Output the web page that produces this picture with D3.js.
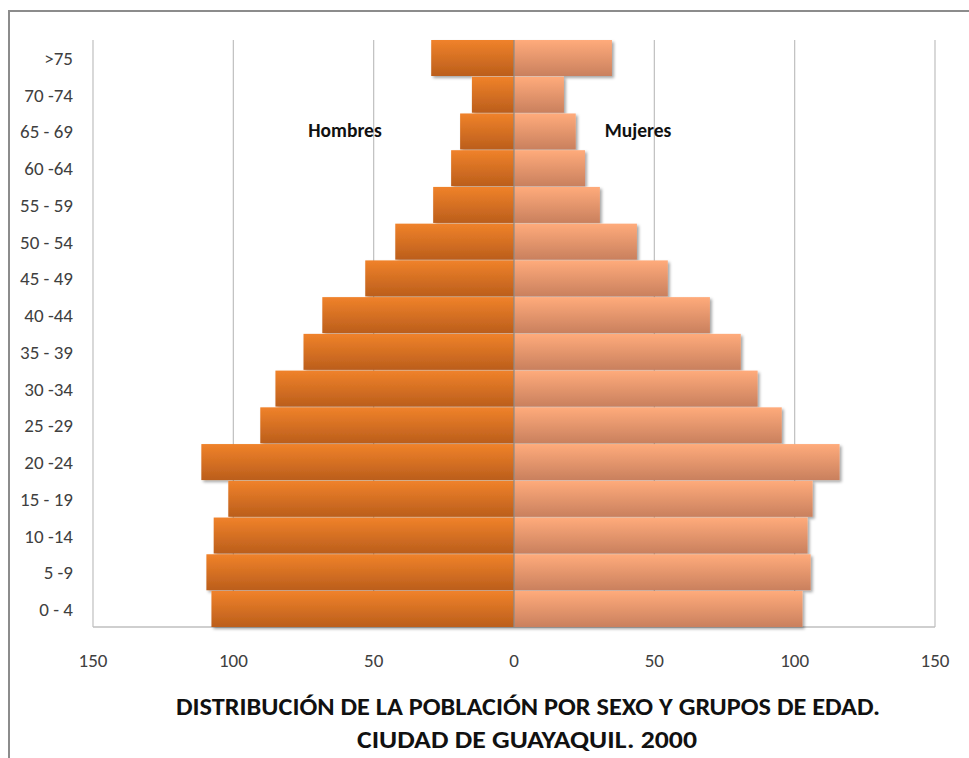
<!DOCTYPE html>
<html>
<head>
<meta charset="utf-8">
<script src="https://cdn.jsdelivr.net/npm/d3@7"></script>
<style>
  body { margin: 0; background: #fff; }
  svg { display: block; font-family: Carlito, Calibri, Lato, "Open Sans", sans-serif; }
</style>
</head>
<body>
<svg id="chart" width="969" height="758"></svg>
<script>
// Age groups, top to bottom
const groups = ["0 - 4", "5 -9", "10 -14", "15 - 19", "20 -24", "25 -29", "30 -34", "35 - 39",
  "40 -44", "45 - 49", "50 - 54", "55 - 59", "60 -64", "65 - 69", "70 -74", ">75"];
const hombres = [107.8, 109.6, 107, 101.8, 111.4, 90.4, 85, 75, 68.3, 53, 42.3, 28.8, 22.4, 19.2, 15, 29.5];
const mujeres = [102.8, 105.7, 104.6, 106.4, 116, 95.4, 86.8, 80.8, 69.8, 54.8, 43.8, 30.6, 25.3, 22, 17.8, 34.9];
const ticks = [-150, -100, -50, 0, 50, 100, 150];
const titleLines = ["DISTRIBUCIÓN DE LA POBLACIÓN POR SEXO Y GRUPOS DE EDAD.", "CIUDAD DE GUAYAQUIL. 2000"];

const svg = d3.select("#chart");
const plotL = 93, plotR = 935, plotT = 40, plotB = 627;

const x = d3.scaleLinear().domain([-150, 150]).range([plotL, plotR]);
const y = d3.scaleBand().domain(groups.slice().reverse()).range([plotT, plotB]).paddingInner(0.02);

const defs = svg.append("defs");
function grad(id, c1, c2) {
  const g = defs.append("linearGradient").attr("id", id)
    .attr("x1", 0).attr("y1", 0).attr("x2", 0).attr("y2", 1);
  g.append("stop").attr("offset", "0%").attr("stop-color", c1);
  g.append("stop").attr("offset", "100%").attr("stop-color", c2);
}
grad("gH", "#f0822a", "#bb5e1c");
grad("gM", "#ffab7b", "#c9805e");
defs.append("filter").attr("id", "shadow").attr("x", "-5%").attr("y", "-20%")
  .attr("width", "115%").attr("height", "160%")
  .append("feDropShadow").attr("dx", 2).attr("dy", 2)
  .attr("stdDeviation", 1.5).attr("flood-color", "#000").attr("flood-opacity", 0.35);

// Outer frame (only left and top visible)
svg.append("path").attr("d", "M9,758 V11 H969")
  .attr("fill", "none").attr("stroke", "#8c8c8c").attr("stroke-width", 2);

// Gridlines
svg.append("g").selectAll("line").data(ticks.filter(d => d !== 0)).enter().append("line")
  .attr("x1", d => x(d)).attr("x2", d => x(d))
  .attr("y1", plotT).attr("y2", plotB)
  .attr("stroke", "#bfbfbf").attr("stroke-width", 1.2);
svg.append("line").attr("x1", plotL).attr("x2", plotR).attr("y1", plotB).attr("y2", plotB)
  .attr("stroke", "#bfbfbf").attr("stroke-width", 1.5);

// Bars
const bars = svg.append("g").attr("filter", "url(#shadow)");
bars.selectAll("rect.h").data(groups).enter().append("rect")
  .attr("class", "h")
  .attr("x", (d, i) => x(-hombres[i]))
  .attr("width", (d, i) => x(0) - x(-hombres[i]))
  .attr("y", d => y(d)).attr("height", y.bandwidth())
  .attr("fill", "url(#gH)");
bars.selectAll("rect.m").data(groups).enter().append("rect")
  .attr("class", "m")
  .attr("x", x(0))
  .attr("width", (d, i) => x(mujeres[i]) - x(0))
  .attr("y", d => y(d)).attr("height", y.bandwidth())
  .attr("fill", "url(#gM)");

// Zero line
svg.append("line").attr("x1", x(0)).attr("x2", x(0)).attr("y1", plotT).attr("y2", plotB)
  .attr("stroke", "#8a8a8a").attr("stroke-width", 1.2);

// Category labels
svg.append("g").selectAll("text").data(groups).enter().append("text")
  .attr("x", 73).attr("y", d => y(d) + y.bandwidth() / 2 + 7)
  .attr("text-anchor", "end").attr("font-size", 19).attr("fill", "#404040")
  .text(d => d);

// Tick labels
svg.append("g").selectAll("text").data(ticks).enter().append("text")
  .attr("x", d => x(d)).attr("y", 667)
  .attr("text-anchor", "middle").attr("font-size", 19).attr("fill", "#404040")
  .text(d => Math.abs(d));

// Series labels
svg.append("text").attr("x", 345).attr("y", 137).attr("text-anchor", "middle")
  .attr("font-size", 19.5).attr("font-weight", "bold").attr("fill", "#111")
  .text("Hombres");
svg.append("text").attr("x", 638).attr("y", 137).attr("text-anchor", "middle")
  .attr("font-size", 19.5).attr("font-weight", "bold").attr("fill", "#111")
  .text("Mujeres");

// Title
svg.append("text").attr("x", 176).attr("y", 715)
  .attr("font-size", 24).attr("font-weight", "bold").attr("fill", "#111")
  .attr("textLength", 704).attr("lengthAdjust", "spacingAndGlyphs")
  .text(titleLines[0]);
svg.append("text").attr("x", 357).attr("y", 748)
  .attr("font-size", 24).attr("font-weight", "bold").attr("fill", "#111")
  .attr("textLength", 340).attr("lengthAdjust", "spacingAndGlyphs")
  .text(titleLines[1]);
</script>
</body>
</html>
